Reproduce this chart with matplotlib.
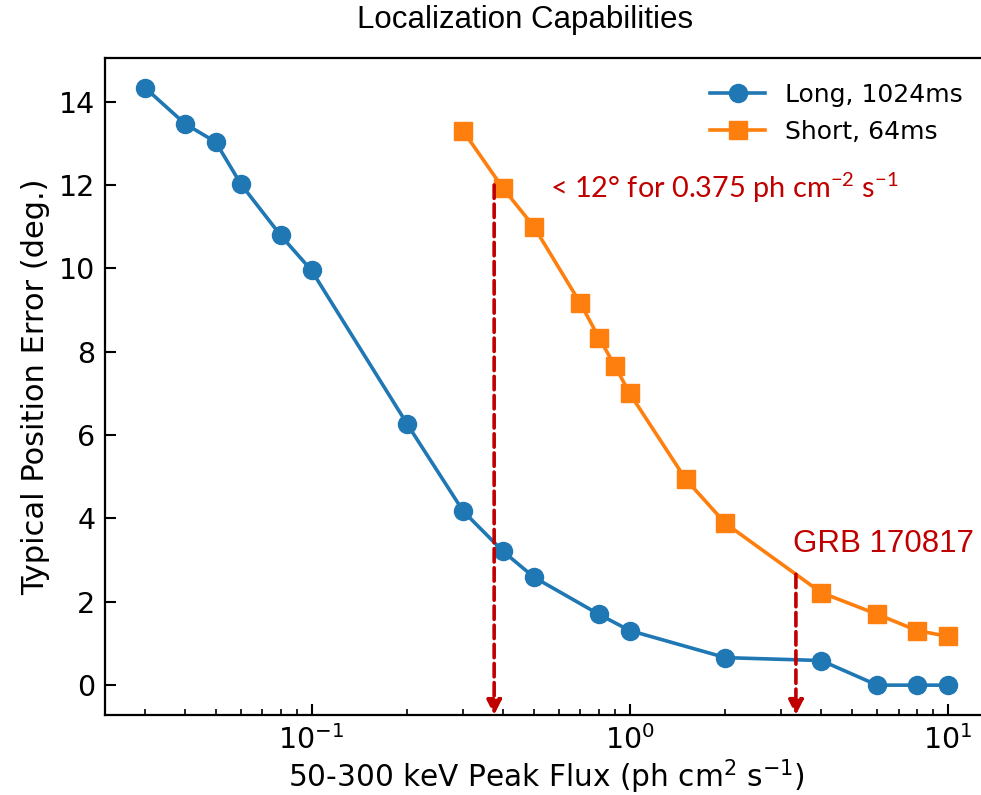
import matplotlib; matplotlib.use('Agg')
import matplotlib.pyplot as plt
import numpy as np

# 数据
long_flux = [0.03, 0.04, 0.05, 0.06, 0.08, 0.1, 0.2, 0.3, 0.4, 0.5, 0.8, 1.0, 2.0, 4.0, 6.0, 8.0, 10.0]
long_err = [14.33, 13.47, 13.03, 12.02, 10.79, 9.95, 6.26, 4.17, 3.21, 2.59, 1.70, 1.31, 0.66, 0.59, 0.0, 0.0, 0.0]
short_flux = [0.3, 0.4, 0.5, 0.7, 0.8, 0.9, 1.0, 1.5, 2.0, 4.0, 6.0, 8.0, 10.0]
short_err = [13.29, 11.92, 11.0, 9.16, 8.34, 7.65, 7.0, 4.94, 3.88, 2.22, 1.70, 1.31, 1.17]
arrow_x = [0.375, 3.33]
arrow_top = [12.0, 2.66]

RED = '#C00000'
plt.rcParams['mathtext.rm'] = 'Lato'
plt.rcParams['mathtext.it'] = 'Lato:italic'
plt.rcParams['mathtext.bf'] = 'Lato:bold'

fig = plt.figure(figsize=(9.81, 7.95), dpi=100)
ax = fig.add_axes([105/981, 80/795, 883/981, 657/795])

ax.plot(long_flux, long_err, '-o', color='#1f77b4', lw=2.6, ms=13, label='Long, 1024ms')
ax.plot(short_flux, short_err, '-s', color='#ff7f0e', lw=2.6, ms=12.5, label='Short, 64ms')
ax.set_xscale('log')
ybot = ax.get_ylim()[0]

for xa, yt in zip(arrow_x, arrow_top):
    ax.annotate('', xy=(xa, ybot), xytext=(xa, yt),
                arrowprops=dict(arrowstyle='-|>', color=RED, lw=2.6, ls='--',
                                mutation_scale=22, shrinkA=0, shrinkB=0))

ax.text(0.56, 11.94, r'< 12° for 0.375 ph cm$^{-2}$ s$^{-1}$', color=RED, fontsize=20.8,
        family='Lato', math_fontfamily='custom', ha='left', va='center')
ax.text(3.27, 3.38, 'GRB 170817', color=RED, fontsize=22.5, family='Liberation Sans',
        ha='left', va='center')

# 标题居中于 x≈525px
fig.text(525/981, 1 - 28/795, 'Localization Capabilities', fontsize=22.5, family='Liberation Sans',
         ha='center', va='baseline')
ax.set_xlabel(r'50-300 keV Peak Flux (ph cm$^2$ s$^{-1}$)', fontsize=21.3, labelpad=2)
ax.set_ylabel('Typical Position Error (deg.)', fontsize=22, labelpad=6)
ax.tick_params(which='both', direction='in', labelsize=20.5, width=1.5, pad=7)
ax.tick_params(which='major', length=8)
ax.tick_params(which='minor', length=4, width=1.2)
for s in ax.spines.values(): s.set_linewidth(1.6)
ax.legend(loc='upper right', frameon=False, fontsize=18, handlelength=2.2,
          borderaxespad=0.6)

plt.savefig('out.png', dpi=100)
plt.close()
